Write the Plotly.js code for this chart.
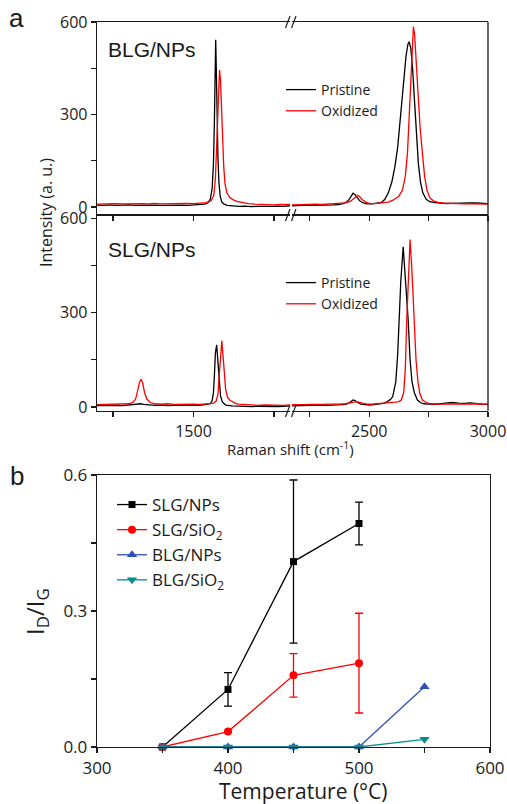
<!DOCTYPE html>
<html>
<head>
<meta charset="utf-8">
<script src="https://cdn.plot.ly/plotly-3.0.1.min.js"></script>
<style>html,body{margin:0;padding:0;background:#fff;}#chart{width:507px;height:804px;}</style>
</head>
<body>
<div id="chart"></div>
<script>
// ---------------- DATA ----------------
// Panel a (top): BLG/NPs Raman spectra
var blgPristineX = [1200,1220,1240,1260,1280,1300,1320,1340,1360,1380,1400,1420,1440,1460,1480,1500,1520,1535,1545,1552,1558,1562,1565,1567,1569,1571,1573,1576,1579,1583,1588,1595,1605,1620,1640,1660,1680,1700,1720,1740,1760,1780,1800,
  2175,2200,2225,2250,2275,2300,2325,2350,2370,2390,2405,2415,2425,2432,2440,2450,2460,2475,2490,2510,2530,2550,2565,2580,2595,2608,2620,2632,2644,2655,2663,2668,2675,2683,2691,2699,2707,2716,2726,2740,2755,2775,2800,2825,2850,2875,2900,2925,2950,2975,3000];
var blgPristineY = [6,5,7,5,6,7,5,6,7,6,5,6,7,6,5,6,7,9,14,25,60,140,280,420,542,440,300,160,80,35,16,9,5,3,2,3,1,2,1,2,3,2,4,
  4,5,4,6,5,5,6,7,8,11,16,24,36,45,40,30,20,13,10,10,11,14,24,45,80,130,195,290,400,490,528,536,515,445,340,230,140,80,45,25,17,14,12,11,12,13,14,13,13,12,11];
var blgOxidizedX = [1200,1220,1240,1260,1280,1300,1320,1340,1360,1380,1400,1420,1440,1460,1480,1500,1520,1540,1555,1563,1568,1572,1575,1578,1581,1584,1587,1590,1594,1598,1604,1612,1622,1635,1650,1670,1690,1710,1730,1750,1770,1790,1800,
  2175,2200,2225,2250,2275,2300,2325,2350,2375,2400,2420,2435,2445,2452,2460,2470,2485,2500,2520,2540,2560,2580,2600,2625,2640,2652,2661,2668,2676,2682,2686,2691,2698,2706,2714,2724,2733,2743,2755,2770,2790,2810,2830,2850,2875,2900,2925,2950,2975,3000];
var blgOxidizedY = [9,10,9,11,10,11,12,11,10,12,10,11,10,11,12,11,12,14,20,38,90,200,320,410,444,410,320,220,130,75,45,32,24,18,14,11,9,8,8,7,8,7,8,
  7,8,9,8,9,8,9,10,11,13,18,26,34,38,33,24,16,12,11,12,13,16,22,35,55,100,174,290,440,550,585,560,470,360,260,174,100,55,30,20,15,13,12,11,11,10,10,9,9,9];

// Panel a (bottom): SLG/NPs Raman spectra
var slgPristineX = [1200,1220,1240,1260,1280,1300,1315,1325,1335,1345,1360,1380,1400,1420,1440,1460,1480,1500,1520,1540,1552,1558,1562,1565,1568,1572,1576,1580,1584,1590,1600,1620,1640,1660,1680,1700,1720,1740,1760,1780,1800,
  2175,2200,2225,2250,2275,2300,2325,2350,2375,2400,2415,2425,2432,2440,2450,2465,2480,2500,2520,2540,2560,2575,2590,2599,2612,2620,2626,2633,2643,2652,2658,2664,2672,2680,2690,2703,2715,2730,2750,2775,2800,2825,2850,2875,2900,2925,2950,2975,3000];
var slgPristineY = [4,5,6,5,4,6,7,9,10,8,6,5,6,4,5,6,5,6,5,7,10,20,45,100,170,197,150,80,35,15,6,3,2,3,1,2,1,2,1,2,3,
  3,4,5,4,5,6,5,6,7,8,12,18,22,20,14,9,7,6,7,8,11,16,24,33,80,170,276,400,509,420,340,276,150,80,45,22,14,10,9,8,10,12,14,12,11,13,10,9,8];
var slgOxidizedX = [1200,1220,1240,1260,1280,1300,1312,1320,1326,1332,1337,1342,1348,1355,1365,1380,1400,1420,1440,1460,1480,1500,1520,1540,1560,1570,1576,1580,1584,1588,1592,1596,1600,1606,1614,1620,1628,1640,1660,1680,1700,1720,1740,1760,1780,1800,
  2175,2200,2225,2250,2275,2300,2325,2350,2375,2400,2420,2435,2445,2455,2470,2490,2510,2530,2560,2590,2610,2625,2635,2645,2652,2658,2665,2672,2680,2689,2697,2705,2714,2724,2740,2760,2780,2800,2825,2850,2875,2900,2925,2950,2975,3000];
var slgOxidizedY = [7,8,7,8,9,10,15,25,50,78,88,75,45,25,14,10,9,10,8,9,10,9,8,9,11,18,40,100,170,210,160,100,55,30,20,18,12,9,7,6,5,6,5,6,5,6,
  7,6,7,8,7,8,9,8,9,10,12,15,17,15,11,9,9,10,11,13,15,17,22,45,120,276,420,532,430,276,150,80,40,22,14,10,9,9,10,9,10,9,10,9,8,9];

// Panel b: ID/IG vs temperature
var temps      = [350, 400, 450, 500, 550];
var slgNPs     = [0, 0.127, 0.409, 0.493];
var slgNPsErr  = [0, 0.037, 0.180, 0.047];
var slgSiO2    = [0, 0.034, 0.158, 0.185];
var slgSiO2Err = [0, 0, 0.048, 0.110];
var blgNPs     = [0, 0, 0, 0, 0.133];
var blgSiO2    = [0, 0, 0, 0, 0.017];

var leftTicks  = [1250, 1500, 1750];
var leftText   = ['', '1500', ''];
var rightTicks = [2250, 2500, 2750, 3000];
var rightText  = ['', '2500', '', '3000'];
var yTicksA = [0, 150, 300, 450, 600];
var yTextA  = ['0', '', '300', '', '600'];
var xTicksB = [300, 350, 400, 450, 500, 550, 600];
var xTextB  = ['300', '', '400', '', '500', '', '600'];
var yTicksB = [0, 0.15, 0.3, 0.45, 0.6];
var yTextB  = ['0.0', '', '0.3', '', '0.6'];

// ---------------- LAYOUT HELPERS ----------------
var W = 507, H = 804, ML = 97, MR = 17, MT = 22, MB = 57;
var PW = W - ML - MR, PH = H - MT - MB;
function px(x) { return (x - ML) / PW; }
function py(y) { return (H - MB - y) / PH; }

var FONT = 'Open Sans, Liberation Sans, sans-serif';
var BLACK = '#000000', RED = '#ff0000', BLUE = '#2d50b8', TEAL = '#0a8c8c';

function split(xs, ys, left) {
  var ox = [], oy = [];
  for (var i = 0; i < xs.length; i++) {
    if ((left && xs[i] <= 1800) || (!left && xs[i] >= 2175)) { ox.push(xs[i]); oy.push(ys[i]); }
  }
  return {x: ox, y: oy};
}

var traces = [];
function addSpectrum(xs, ys, color, name, xa, xb, ya, legend) {
  var L = split(xs, ys, true), R = split(xs, ys, false);
  traces.push({x: L.x, y: L.y, xaxis: xa, yaxis: ya, mode: 'lines', name: name, line: {color: color, width: 1.3},
    legend: legend, showlegend: true});
  traces.push({x: R.x, y: R.y, xaxis: xb, yaxis: ya, mode: 'lines', name: name, line: {color: color, width: 1.3},
    legend: legend, showlegend: false});
}
addSpectrum(blgPristineX, blgPristineY, BLACK, 'Pristine', 'x', 'x2', 'y', 'legend2');
addSpectrum(blgOxidizedX, blgOxidizedY, RED, 'Oxidized', 'x', 'x2', 'y', 'legend2');
addSpectrum(slgPristineX, slgPristineY, BLACK, 'Pristine', 'x3', 'x4', 'y2', 'legend3');
addSpectrum(slgOxidizedX, slgOxidizedY, RED, 'Oxidized', 'x3', 'x4', 'y2', 'legend3');

function addSeries(ys, err, color, symbol, size, name) {
  var t = {x: temps.slice(0, ys.length), y: ys, xaxis: 'x5', yaxis: 'y3', mode: 'lines+markers', name: name,
    line: {color: color, width: 1.3}, marker: {color: color, symbol: symbol, size: size},
    cliponaxis: false, legend: 'legend'};
  if (err) t.error_y = {type: 'data', array: err, visible: true, color: color, thickness: 1.3, width: 4};
  traces.push(t);
}
addSeries(slgNPs, slgNPsErr, BLACK, 'square', 7, 'SLG/NPs');
addSeries(slgSiO2, slgSiO2Err, RED, 'circle', 8, 'SLG/SiO<sub>2</sub>');
addSeries(blgNPs, null, BLUE, 'triangle-up', 9, 'BLG/NPs');
addSeries(blgSiO2, null, TEAL, 'triangle-down', 9, 'BLG/SiO<sub>2</sub>');

var axisBase = {showline: true, linecolor: '#1a1a1a', linewidth: 1.3, ticks: 'outside', ticklen: 5, tickwidth: 1.2,
  tickcolor: '#1a1a1a', showgrid: false, zeroline: false, tickmode: 'array', fixedrange: true,
  tickfont: {family: FONT, size: 16, color: '#1a1a1a'}};
function ax(o) { return Object.assign({}, axisBase, o); }

var xL0 = px(ML), xL1 = px(290), xR0 = px(292), xR1 = px(488);

var shapes = [];
function line(x0, y0, x1, y1, w) {
  shapes.push({type: 'line', xref: 'paper', yref: 'paper', x0: px(x0), y0: py(y0), x1: px(x1), y1: py(y1),
    line: {color: '#1a1a1a', width: w || 1.2}});
}
// right border of panel a
line(488, 22, 488, 411, 1.3);
// axis-break marks
[22, 215, 411].forEach(function (yy) {
  line(285.5, yy + 6, 290, yy - 6);
  line(291.5, yy + 6, 296, yy - 6);
});

var annotations = [];
function label(text, x, y, size, xanchor, family, angle) {
  annotations.push({text: text, xref: 'paper', yref: 'paper', x: px(x), y: py(y), xanchor: xanchor || 'center',
    yanchor: 'middle', showarrow: false, textangle: angle || 0,
    font: {family: family || FONT, size: size, color: '#1a1a1a'}});
}
label('a', 16, 18, 26, 'center', 'Liberation Sans, Arial, sans-serif');
label('b', 17, 476, 26, 'center', 'Liberation Sans, Arial, sans-serif');
label('BLG/NPs', 106, 50, 21, 'left', 'Liberation Sans, Arial, sans-serif');
label('SLG/NPs', 106, 249, 21, 'left', 'Liberation Sans, Arial, sans-serif');
label('Intensity (a. u.)', 46, 213, 16, 'center', FONT, -90);
label('Raman shift (cm<sup>-1</sup>)', 290, 448, 15, 'center', FONT);
label('I<sub>D</sub>/I<sub>G</sub>', 36, 612, 24, 'center', FONT, -90);
label('Temperature (°C)', 303, 791, 21, 'center', FONT);

var layout = {
  width: W, height: H, margin: {l: ML, r: MR, t: MT, b: MB}, paper_bgcolor: '#fff', plot_bgcolor: 'rgba(0,0,0,0)',
  font: {family: FONT, color: '#1a1a1a'},
  xaxis:  ax({domain: [xL0, xL1], range: [1200, 1800], anchor: 'y', mirror: true, tickvals: leftTicks, showticklabels: false}),
  xaxis2: ax({domain: [xR0, xR1], range: [2175, 3000], anchor: 'y', mirror: true, tickvals: rightTicks, showticklabels: false}),
  yaxis:  ax({domain: [py(215), py(22)], range: [-26, 600], anchor: 'x', tickvals: yTicksA, ticktext: yTextA}),
  xaxis3: ax({domain: [xL0, xL1], range: [1200, 1800], anchor: 'y2', mirror: true, tickvals: leftTicks, ticktext: leftText}),
  xaxis4: ax({domain: [xR0, xR1], range: [2175, 3000], anchor: 'y2', mirror: true, tickvals: rightTicks, ticktext: rightText}),
  yaxis2: ax({domain: [py(411), py(215)], range: [-13, 610], anchor: 'x3', tickvals: yTicksA, ticktext: yTextA}),
  xaxis5: ax({domain: [0, 1], range: [300, 600], anchor: 'y3', mirror: true, tickvals: xTicksB, ticktext: xTextB, tickfont: {family: FONT, size: 17, color: '#1a1a1a'}}),
  yaxis3: ax({domain: [0, py(475)], range: [0, 0.6], anchor: 'x5', mirror: true, tickvals: yTicksB, ticktext: yTextB, tickfont: {family: FONT, size: 17, color: '#1a1a1a'}}),
  legend:  {x: px(112), y: py(487), xanchor: 'left', yanchor: 'top', bgcolor: 'rgba(0,0,0,0)', font: {family: FONT, size: 17, color: '#1a1a1a'}, tracegroupgap: 0},
  legend2: {x: px(281), y: py(74), xanchor: 'left', yanchor: 'top', bgcolor: 'rgba(0,0,0,0)', font: {family: FONT, size: 14, color: '#1a1a1a'}, tracegroupgap: 0},
  legend3: {x: px(281), y: py(267), xanchor: 'left', yanchor: 'top', bgcolor: 'rgba(0,0,0,0)', font: {family: FONT, size: 14, color: '#1a1a1a'}, tracegroupgap: 0},
  shapes: shapes,
  annotations: annotations
};

Plotly.newPlot('chart', traces, layout, {displayModeBar: false, staticPlot: true});
</script>
</body>
</html>
